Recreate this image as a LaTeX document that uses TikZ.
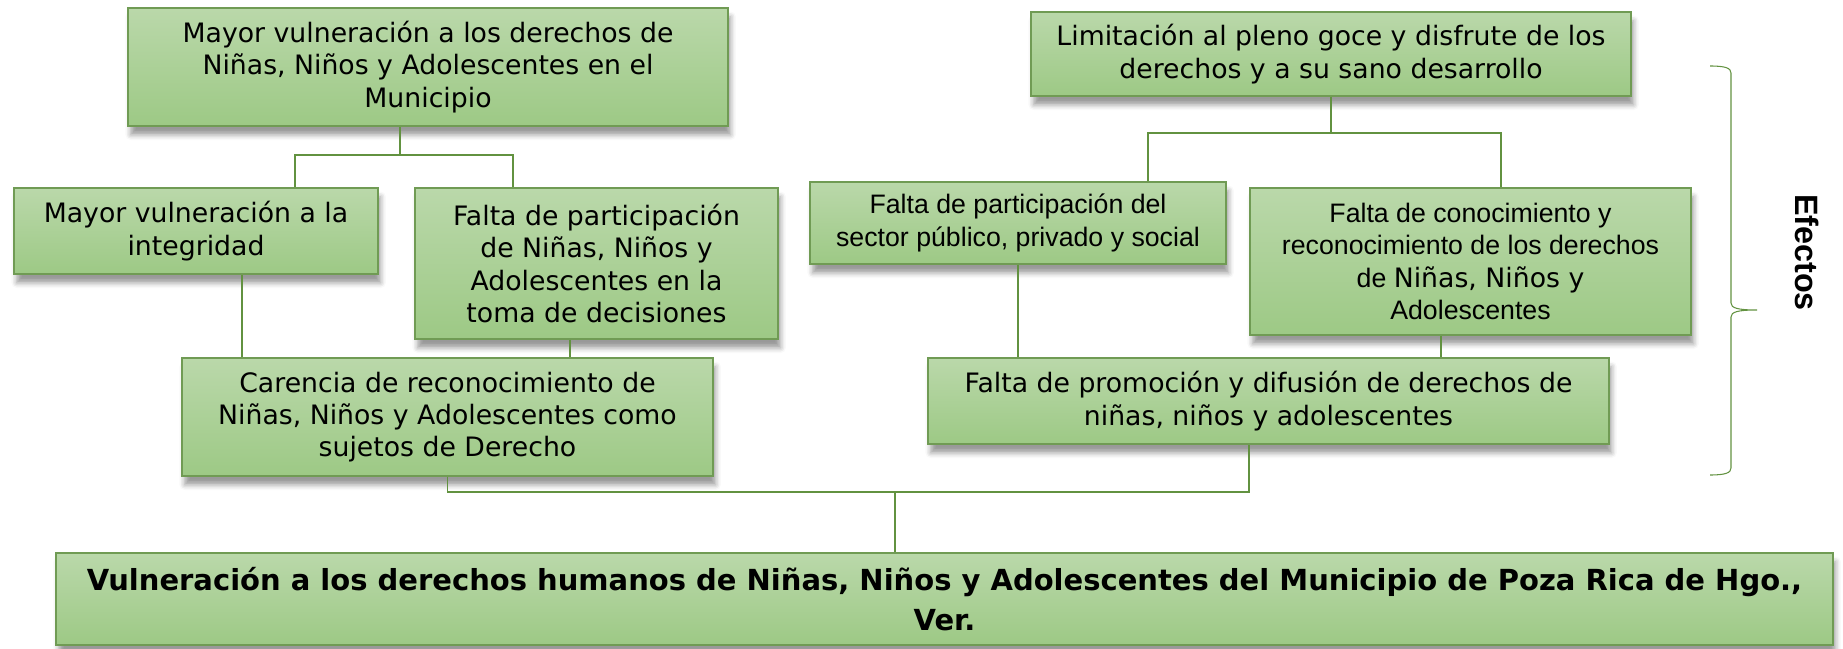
\documentclass[tikz,border=0pt]{standalone}
\usepackage{fontspec}
\setmainfont{DejaVu Sans}
\newfontfamily\arialfont{Liberation Sans}
\usetikzlibrary{shadows.blur}
\definecolor{boxtop}{RGB}{186,216,170}
\definecolor{boxbot}{RGB}{157,201,133}
\definecolor{boxline}{RGB}{112,155,84}
\definecolor{lgreen}{RGB}{98,146,64}

\begin{document}
\begin{tikzpicture}[
    box/.style={rectangle, draw=boxline, line width=0.8pt,
                top color=boxtop, bottom color=boxbot,
                align=center, inner sep=2pt,
                font=\fontsize{15.2}{18.4}\selectfont,
                blur shadow={shadow xshift=1.5pt, shadow yshift=-5pt,
                             shadow blur radius=3pt}},
    arial/.style={font=\arialfont\fontsize{15.2}{18.4}\selectfont},
    link/.style={lgreen, line width=0.6pt}]

\useasboundingbox (0,0) rectangle (36.86,12.96);

% ════════════════════════════════════════
%  LEFT branch
% ════════════════════════════════════════

\node[box, minimum width=12cm, minimum height=2.36cm] (vulmun) at (8.56,11.62)
    {Mayor vulneración a los derechos de\\Niñas, Niños y Adolescentes en el\\Municipio};

\node[box, minimum width=7.28cm, minimum height=1.72cm] (integ) at (3.92,8.34)
    {Mayor vulneración a la\\integridad};

\node[box, minimum width=7.26cm, minimum height=3.02cm] (faltapart) at (11.93,7.69)
    {Falta de participación\\de Niñas, Niños y\\Adolescentes en la\\toma de decisiones};

\node[box, minimum width=10.62cm, minimum height=2.36cm] (carencia) at (8.95,4.62)
    {Carencia de reconocimiento de\\Niñas, Niños y Adolescentes como\\sujetos de Derecho};

% ════════════════════════════════════════
%  RIGHT branch
% ════════════════════════════════════════

\node[box, minimum width=12cm, minimum height=1.68cm] (limgoce) at (26.62,11.88)
    {Limitación al pleno goce y disfrute de los\\derechos y a su sano desarrollo};

\node[box, arial, minimum width=8.32cm, minimum height=1.64cm] (sector) at (20.36,8.5)
    {Falta de participación del\\sector público, privado y social};

\node[box, arial, minimum width=8.82cm, minimum height=2.94cm] (conoc) at (29.41,7.73)
    {Falta de conocimiento y\\reconocimiento de los derechos\\de {\normalfont Niñas, Niños y}\\Adolescentes};

\node[box, minimum width=13.62cm, minimum height=1.72cm] (promo) at (25.37,4.94)
    {Falta de promoción y difusión de derechos de\\niñas, niños y adolescentes};

% Main problem
\node[box, font=\bfseries\fontsize{16.5}{22.5}\selectfont,
      minimum width=35.54cm, minimum height=1.84cm] (problema) at (18.89,0.98)
    {Vulneración a los derechos humanos de Niñas, Niños y Adolescentes del Municipio de Poza Rica de Hgo.,\\Ver.};

% ════════════════════════════════════════
%  Connectors
% ════════════════════════════════════════

% left tree
\coordinate (jA) at (8.0,9.86);
\coordinate (jAl) at (5.9,9.86);
\coordinate (jAr) at (10.26,9.86);
\coordinate (cI) at ([xshift=0.92cm]integ.south);
\coordinate (cP) at ([xshift=-0.53cm]faltapart.south);
\draw[link] (vulmun.south -| jA) -- (jA);
\draw[link] (integ.north -| jAl) -- (jAl) -- (jAr) -- (faltapart.north -| jAr);
\draw[link] (cI) -- (cI |- carencia.north);
\draw[link] (cP) -- (cP |- carencia.north);

% right tree
\coordinate (jB) at (26.62,10.30);
\coordinate (jBl) at (22.96,10.30);
\coordinate (jBr) at (30.02,10.30);
\coordinate (cC) at ([xshift=-0.59cm]conoc.south);
\draw[link] (limgoce.south -| jB) -- (jB);
\draw[link] (sector.north -| jBl) -- (jBl) -- (jBr) -- (conoc.north -| jBr);
\draw[link] (sector.south) -- (sector.south |- promo.north);
\draw[link] (cC) -- (cC |- promo.north);

% down to the main problem
\coordinate (jC) at (17.9,3.12);
\coordinate (cH) at ([xshift=-0.39cm]promo.south);
\draw[link] (carencia.south) -- (carencia.south |- jC) -- (cH |- jC) -- (cH);
\draw[link] (jC) -- (problema.north -| jC);

% ════════════════════════════════════════
%  Brace: Efectos
% ════════════════════════════════════════

\draw[link] (34.2,11.64) .. controls (34.5,11.64) and (34.62,11.6) .. (34.62,11.5)
    -- (34.62,6.9) .. controls (34.62,6.8) and (34.75,6.76) .. (35.14,6.76)
    .. controls (34.75,6.76) and (34.62,6.72) .. (34.62,6.62)
    -- (34.62,3.6) .. controls (34.62,3.5) and (34.5,3.46) .. (34.2,3.46);
\node[font=\arialfont\bfseries\fontsize{18.4}{22}\selectfont, rotate=-90] (efectos)
    at (36.14,7.91) {Efectos};

\end{tikzpicture}
\end{document}
